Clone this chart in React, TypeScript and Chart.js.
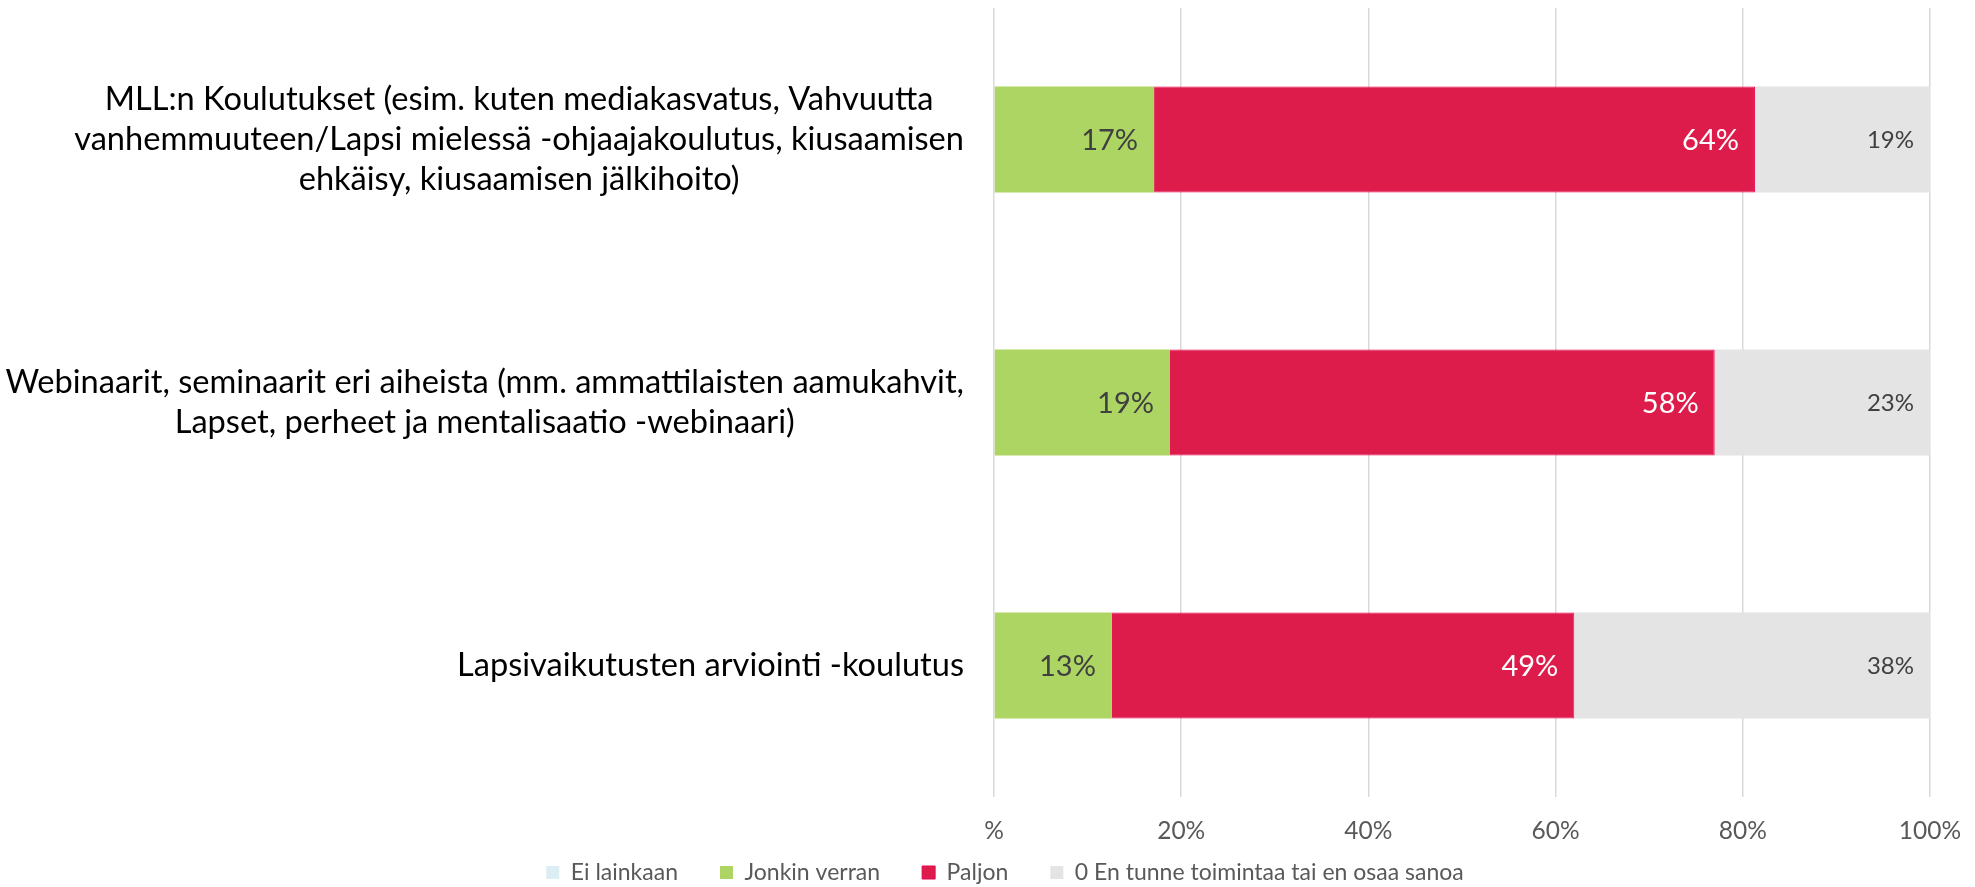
import React, { useEffect, useRef } from "react";
import { Chart, registerables } from "chart.js";

Chart.register(...registerables);

const categories: string[][] = [
  [
    "MLL:n Koulutukset (esim. kuten mediakasvatus, Vahvuutta",
    "vanhemmuuteen/Lapsi mielessä -ohjaajakoulutus, kiusaamisen",
    "ehkäisy, kiusaamisen jälkihoito)",
  ],
  [
    "Webinaarit, seminaarit eri aiheista (mm. ammattilaisten aamukahvit,",
    "Lapset, perheet ja mentalisaatio -webinaari)",
  ],
  ["Lapsivaikutusten arviointi -koulutus"],
];

const seriesNames = [
  "Ei lainkaan",
  "Jonkin verran",
  "Paljon",
  "0 En tunne toimintaa tai en osaa sanoa",
];
const eiLainkaan = [0, 0, 0];
const jonkinVerran = [17.1, 18.8, 12.6];
const paljon = [64.2, 58.2, 49.4];
const enTunne = [18.7, 23.0, 38.0];

const xTicks = [0, 20, 40, 60, 80, 100];
const xTickLabels = ["%", "20%", "40%", "60%", "80%", "100%"];

const FONT = "Lato, 'Open Sans', sans-serif";

const categoryLabelPlugin = {
  id: "categoryLabels",
  afterDraw(chart: any) {
    const ctx = chart.ctx;
    const yScale = chart.scales.y;
    const rightX = 964;
    const lineH = 40;
    ctx.save();
    ctx.font = `32.6px ${FONT}`;
    ctx.fillStyle = "#000000";
    ctx.textAlign = "center";
    ctx.textBaseline = "middle";
    categories.forEach((lines, i) => {
      const cy = yScale.getPixelForValue(i);
      const maxW = Math.max(...lines.map((l) => ctx.measureText(l).width));
      const cx = rightX - maxW / 2;
      const startY = cy - ((lines.length - 1) * lineH) / 2;
      lines.forEach((l, j) => ctx.fillText(l, cx, startY + j * lineH));
    });
    ctx.restore();
  },
};

const dataLabelPlugin = {
  id: "barValueLabels",
  afterDatasetsDraw(chart: any) {
    const ctx = chart.ctx;
    ctx.save();
    ctx.textAlign = "right";
    ctx.textBaseline = "middle";
    chart.data.datasets.forEach((ds: any, di: number) => {
      if (di === 0) return;
      const meta = chart.getDatasetMeta(di);
      meta.data.forEach((el: any, i: number) => {
        const v = ds.data[i];
        if (!v) return;
        if (di === 3) {
          ctx.font = `24px ${FONT}`;
          ctx.fillStyle = "#404040";
        } else if (di === 2) {
          ctx.font = `29px ${FONT}`;
          ctx.fillStyle = "#ffffff";
        } else {
          ctx.font = `29px ${FONT}`;
          ctx.fillStyle = "#404040";
        }
        ctx.fillText(`${Math.round(v)}%`, el.x - 16, el.y + 1);
      });
    });
    ctx.restore();
  },
};

// Lift the legend closer to the axis (its wide item gaps come from labels.padding,
// which also adds vertical space).
const legendShiftPlugin = {
  id: "legendShift",
  afterLayout(chart: any) {
    const lg = chart.legend;
    if (lg) {
      lg.top -= 24;
      lg.bottom -= 24;
    }
  },
};

export default function App() {
  const ref = useRef<HTMLCanvasElement | null>(null);
  useEffect(() => {
    document.body.style.margin = "0";
    const canvas = ref.current;
    if (!canvas) return;
    const chart = new Chart(canvas, {
      type: "bar",
      data: {
        labels: categories.map((c) => c.join(" ")),
        datasets: [
          {
            label: seriesNames[0],
            data: eiLainkaan,
            backgroundColor: "#DAEEF3",
          },
          {
            label: seriesNames[1],
            data: jonkinVerran,
            backgroundColor: "#ADD563",
          },
          {
            label: seriesNames[2],
            data: paljon,
            backgroundColor: "#DE1C4C",
            borderColor: "#E8064F",
            borderWidth: 1,
          },
          {
            label: seriesNames[3],
            data: enTunne,
            backgroundColor: "#E4E4E4",
          },
        ],
      },
      options: {
        indexAxis: "y",
        responsive: false,
        maintainAspectRatio: false,
        animation: false,
        devicePixelRatio: 1,
        layout: { padding: { top: 8, right: 45, left: 80, bottom: -31 } },
        datasets: {
          bar: { categoryPercentage: 1, barPercentage: 0.403 },
        } as any,
        scales: {
          x: {
            stacked: true,
            min: 0,
            max: 100,
            afterBuildTicks(scale: any) {
              scale.ticks = xTicks.map((v) => ({ value: v }));
            },
            afterFit(scale: any) {
              scale.height = 46;
              scale.paddingRight = 0;
              scale.paddingLeft = 0;
            },
            ticks: {
              callback: (_v: any, i: number) => xTickLabels[i],
              font: { family: FONT, size: 24.5 },
              color: "#595959",
              padding: 19,
            },
            grid: { color: "#D9D9D9", lineWidth: 1.5, drawTicks: false },
            border: { display: false },
          },
          y: {
            stacked: true,
            afterFit(scale: any) {
              scale.width = 914;
            },
            ticks: { display: false },
            grid: { display: false },
            border: { display: false },
          },
        },
        plugins: {
          legend: {
            position: "bottom",
            labels: {
              boxWidth: 13,
              boxHeight: 13,
              padding: 42,
              color: "#595959",
              font: { family: FONT, size: 23 },
            },
          },
          tooltip: { enabled: false },
        },
      },
      plugins: [categoryLabelPlugin, dataLabelPlugin, legendShiftPlugin],
    });
    return () => chart.destroy();
  }, []);
  return (
    <div style={{ width: 1975, height: 887 }}>
      <canvas ref={ref} width={1975} height={887} style={{ display: "block" }} />
    </div>
  );
}
